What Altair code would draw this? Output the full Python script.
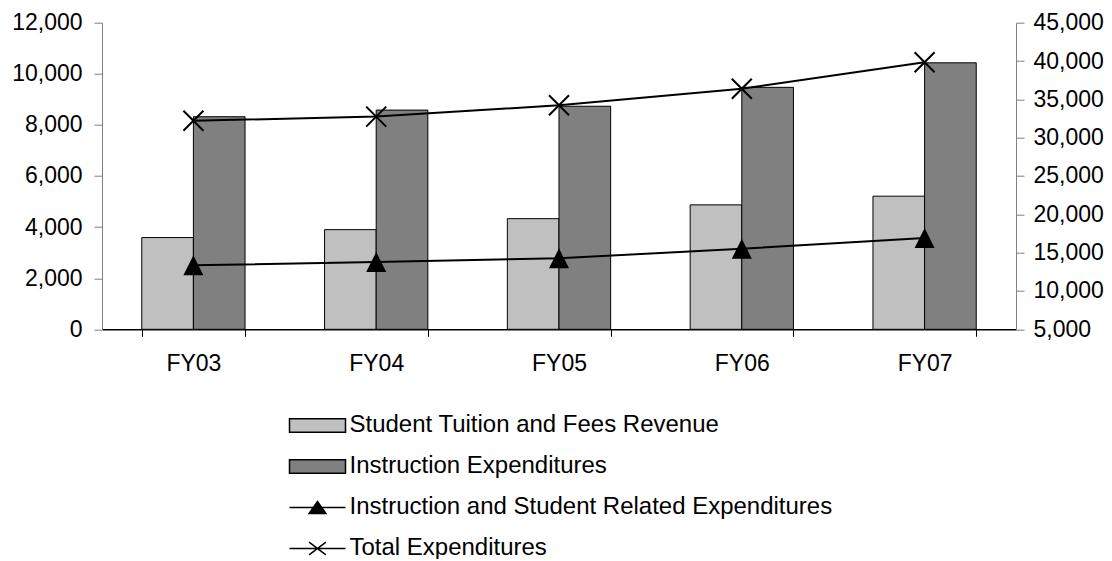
import altair as alt
import pandas as pd

years = ["FY03", "FY04", "FY05", "FY06", "FY07"]
tuition = [3590, 3900, 4330, 4870, 5210]
instruction = [8320, 8580, 8730, 9470, 10430]
instr_student = [13350, 13790, 14260, 15520, 16900]
total_exp = [32200, 32750, 34220, 36390, 39850]

bar_names = ["Student Tuition and Fees Revenue", "Instruction Expenditures"]
line_names = ["Instruction and Student Related Expenditures", "Total Expenditures"]
all_names = bar_names + line_names
bar_colors = ["#c0c0c0", "#808080"]
left_ticks = [0, 2000, 4000, 6000, 8000, 10000, 12000]
right_ticks = [5000, 10000, 15000, 20000, 25000, 30000, 35000, 40000, 45000]

bars_df = pd.DataFrame({
    "year": years * 2,
    "series": [bar_names[0]] * 5 + [bar_names[1]] * 5,
    "value": tuition + instruction,
})
lines_df = pd.DataFrame({
    "year": years * 2,
    "series": [line_names[0]] * 5 + [line_names[1]] * 5,
    "value": instr_student + total_exp,
})
legend_df = pd.DataFrame({"series": all_names})

FONT = "Liberation Sans"

x_scale = alt.Scale(domain=years, paddingInner=0.435, paddingOuter=0.2175)
x_axis = alt.Axis(title=None, orient="bottom", tickBand="extent", labelFontSize=23,
                  labelFont=FONT, labelColor="black", domainColor="black",
                  tickColor="black", tickSize=7, labelPadding=16, labelAngle=0,
                  grid=False, domainWidth=1.5)

yl_axis = alt.Axis(title=None, orient="left", values=left_ticks, format=",.0f",
                   tickSize=8, labelPadding=12, domainColor="#808080",
                   tickColor="#808080", labelFontSize=23, labelFont=FONT,
                   labelColor="black", grid=False)
yr_axis = alt.Axis(title=None, orient="right", values=right_ticks, format=",.0f",
                   tickSize=8, labelPadding=9, domainColor="#808080",
                   tickColor="#808080", labelFontSize=23, labelFont=FONT,
                   labelColor="black", grid=False)

yl_scale = alt.Scale(domain=[0, 12000], nice=False, zero=True)
yr_scale = alt.Scale(domain=[5000, 45000], nice=False, zero=False)

bars = alt.Chart(bars_df).mark_bar(stroke="black", strokeWidth=1).encode(
    x=alt.X("year:N", scale=x_scale, axis=x_axis),
    xOffset=alt.XOffset("series:N", scale=alt.Scale(domain=bar_names, paddingInner=0, paddingOuter=0)),
    y=alt.Y("value:Q", scale=yl_scale, axis=yl_axis),
    color=alt.Color("series:N", scale=alt.Scale(domain=bar_names, range=bar_colors), legend=None),
)

tri_path = "M0,-1L1,1L-1,1Z"
x_path = "M-1,-1L1,1M-1,1L1,-1"

line = alt.Chart(lines_df).mark_line(color="black", strokeWidth=2).encode(
    x=alt.X("year:N", scale=x_scale, axis=x_axis),
    y=alt.Y("value:Q", scale=yr_scale, axis=yr_axis),
    detail="series:N",
)
tri = alt.Chart(lines_df).transform_filter(
    alt.datum.series == line_names[0]
).mark_point(shape=tri_path, size=400, filled=True, color="black", opacity=1).encode(
    x=alt.X("year:N", scale=x_scale, axis=x_axis),
    y=alt.Y("value:Q", scale=yr_scale, axis=yr_axis),
)
crs = alt.Chart(lines_df).transform_filter(
    alt.datum.series == line_names[1]
).mark_point(shape=x_path, size=400, filled=False, color="black", strokeWidth=2, opacity=1).encode(
    x=alt.X("year:N", scale=x_scale, axis=x_axis),
    y=alt.Y("value:Q", scale=yr_scale, axis=yr_axis),
)

legend_paths = [
    "M-1,-0.24H1V0.24H-1Z",
    "M-1,-0.24H1V0.24H-1Z",
    "M-1,0H1M-0.3,0.21L0,-0.21L0.3,0.21Z",
    "M-1,0H1M-0.3,-0.23L0.3,0.23M-0.3,0.23L0.3,-0.23",
]

def make_legend():
    return alt.Legend(title=None, orient="none", legendX=186.5, legendY=373.8,
                      direction="vertical", labelFont=FONT, labelFontSize=24,
                      labelColor="black", labelLimit=1000, symbolSize=3136,
                      labelOffset=3, rowPadding=-0.8, padding=0)

leg = alt.Chart(legend_df).transform_filter("false").mark_point(
    filled=True, opacity=1
).encode(
    shape=alt.Shape("series:N", scale=alt.Scale(domain=all_names, range=legend_paths), legend=make_legend()),
    fill=alt.Fill("series:N", scale=alt.Scale(domain=all_names, range=["#c0c0c0", "#808080", "black", "black"]), legend=make_legend()),
    stroke=alt.Stroke("series:N", scale=alt.Scale(domain=all_names, range=["black", "black", "black", "black"]), legend=make_legend()),
)

chart = alt.layer(bars, alt.layer(line, tri, crs), leg).resolve_scale(
    y="independent"
).properties(
    width=914, height=306.6,
    autosize=alt.AutoSizeParams(type="none"),
    padding={"left": 94, "top": 14.7, "right": 88, "bottom": 230},
).configure_view(stroke=None)

chart.save("out.html", embed_options={"renderer": "svg", "actions": False})
